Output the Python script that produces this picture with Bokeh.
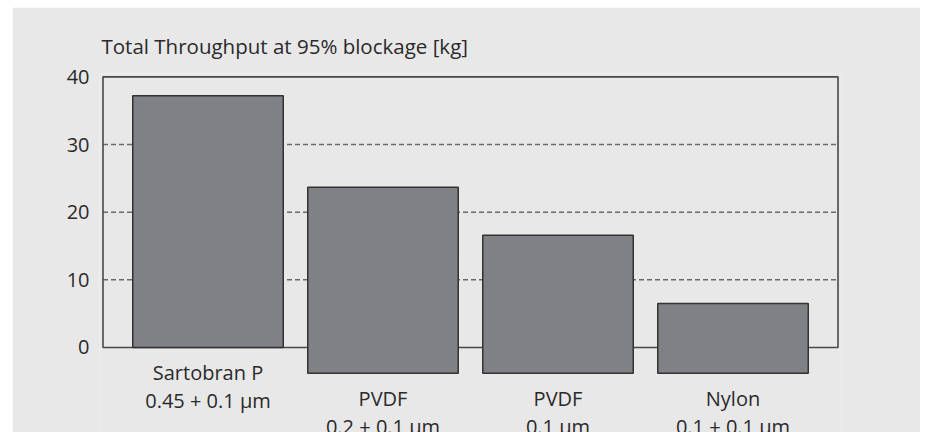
from bokeh.plotting import figure
from bokeh.models import Range1d, FixedTicker, Spacer, ColumnDataSource
from bokeh.layouts import row, column
from bokeh.core.properties import value
from bokeh.embed import file_html
from bokeh.resources import INLINE

# ---- data ----
label_line1 = ["Sartobran P", "PVDF", "PVDF", "Nylon"]
label_line2 = ["0.45 + 0.1 µm", "0.2 + 0.1 µm", "0.1 µm", "0.1 + 0.1 µm"]
throughput = [37.2, 23.7, 16.6, 6.5]
bar_base = [0, -3.8, -3.8, -3.8]
y_ticks = [0, 10, 20, 30, 40]
grid_ticks = [10, 20, 30]
title_text = "Total Throughput at 95% blockage [kg]"

# ---- style ----
BG = "#e7e8e7"
TXT = "#2b2a2b"
FONT = value("Open Sans")
idx = list(range(len(throughput)))
X_LO, X_HI = -0.6, len(throughput) - 0.4
Y_MAX = 40

p = figure(width=908, height=425, output_backend="svg", toolbar_location=None,
           x_range=Range1d(X_LO - 0.02, X_HI + 0.02), y_range=Range1d(-12.57, Y_MAX + 0.5),
           x_axis_location=None, min_border_left=87, min_border_right=79,
           min_border_top=66, min_border_bottom=0)
p.background_fill_color = BG
p.border_fill_color = BG
p.outline_line_color = None
p.xgrid.visible = False
p.ygrid.visible = False

p.title.text = title_text
p.title.text_font = "Open Sans"
p.title.text_font_size = "20.5px"
p.title.text_font_style = "normal"
p.title.text_color = TXT
p.title.align = "left"
p.title.offset = 2
p.title.standoff = 27

ax = p.yaxis[0]
ax.ticker = FixedTicker(ticks=y_ticks, minor_ticks=[])
ax.axis_line_color = None
ax.major_tick_line_color = None
ax.major_tick_in = 0
ax.major_tick_out = 0
ax.minor_tick_line_color = None
ax.major_label_standoff = 10
ax.major_label_text_font = "Open Sans"
ax.major_label_text_font_size = "20px"
ax.major_label_text_color = TXT

# dashed grid lines spanning the box
p.segment(x0=[X_LO] * len(grid_ticks), x1=[X_HI] * len(grid_ticks), y0=grid_ticks, y1=grid_ticks,
          line_color="#6a6a6a", line_width=1.5, line_dash="5 3")
# box outline
p.quad(left=[X_LO], right=[X_HI], bottom=[0], top=[Y_MAX], fill_color=None,
       line_color="#474747", line_width=1.6)

src = ColumnDataSource(dict(x=idx, top=throughput, bottom=bar_base, l1=label_line1, l2=label_line2))
p.vbar(x="x", top="top", bottom="bottom", width=0.86, source=src,
       fill_color="#808184", line_color="#333333", line_width=1.5)

p.text(x="x", y="bottom", text="l1", source=src, text_font=FONT, text_font_size="20px",
       text_color=TXT, text_align="center", text_baseline="middle", y_offset=25)
p.text(x="x", y="bottom", text="l2", source=src, text_font=FONT, text_font_size="20px",
       text_color=TXT, text_align="center", text_baseline="middle", y_offset=53)

layout = column(Spacer(width=10, height=7), row(Spacer(width=12, height=10), p))
open("out.html", "w").write(file_html(layout, INLINE))
